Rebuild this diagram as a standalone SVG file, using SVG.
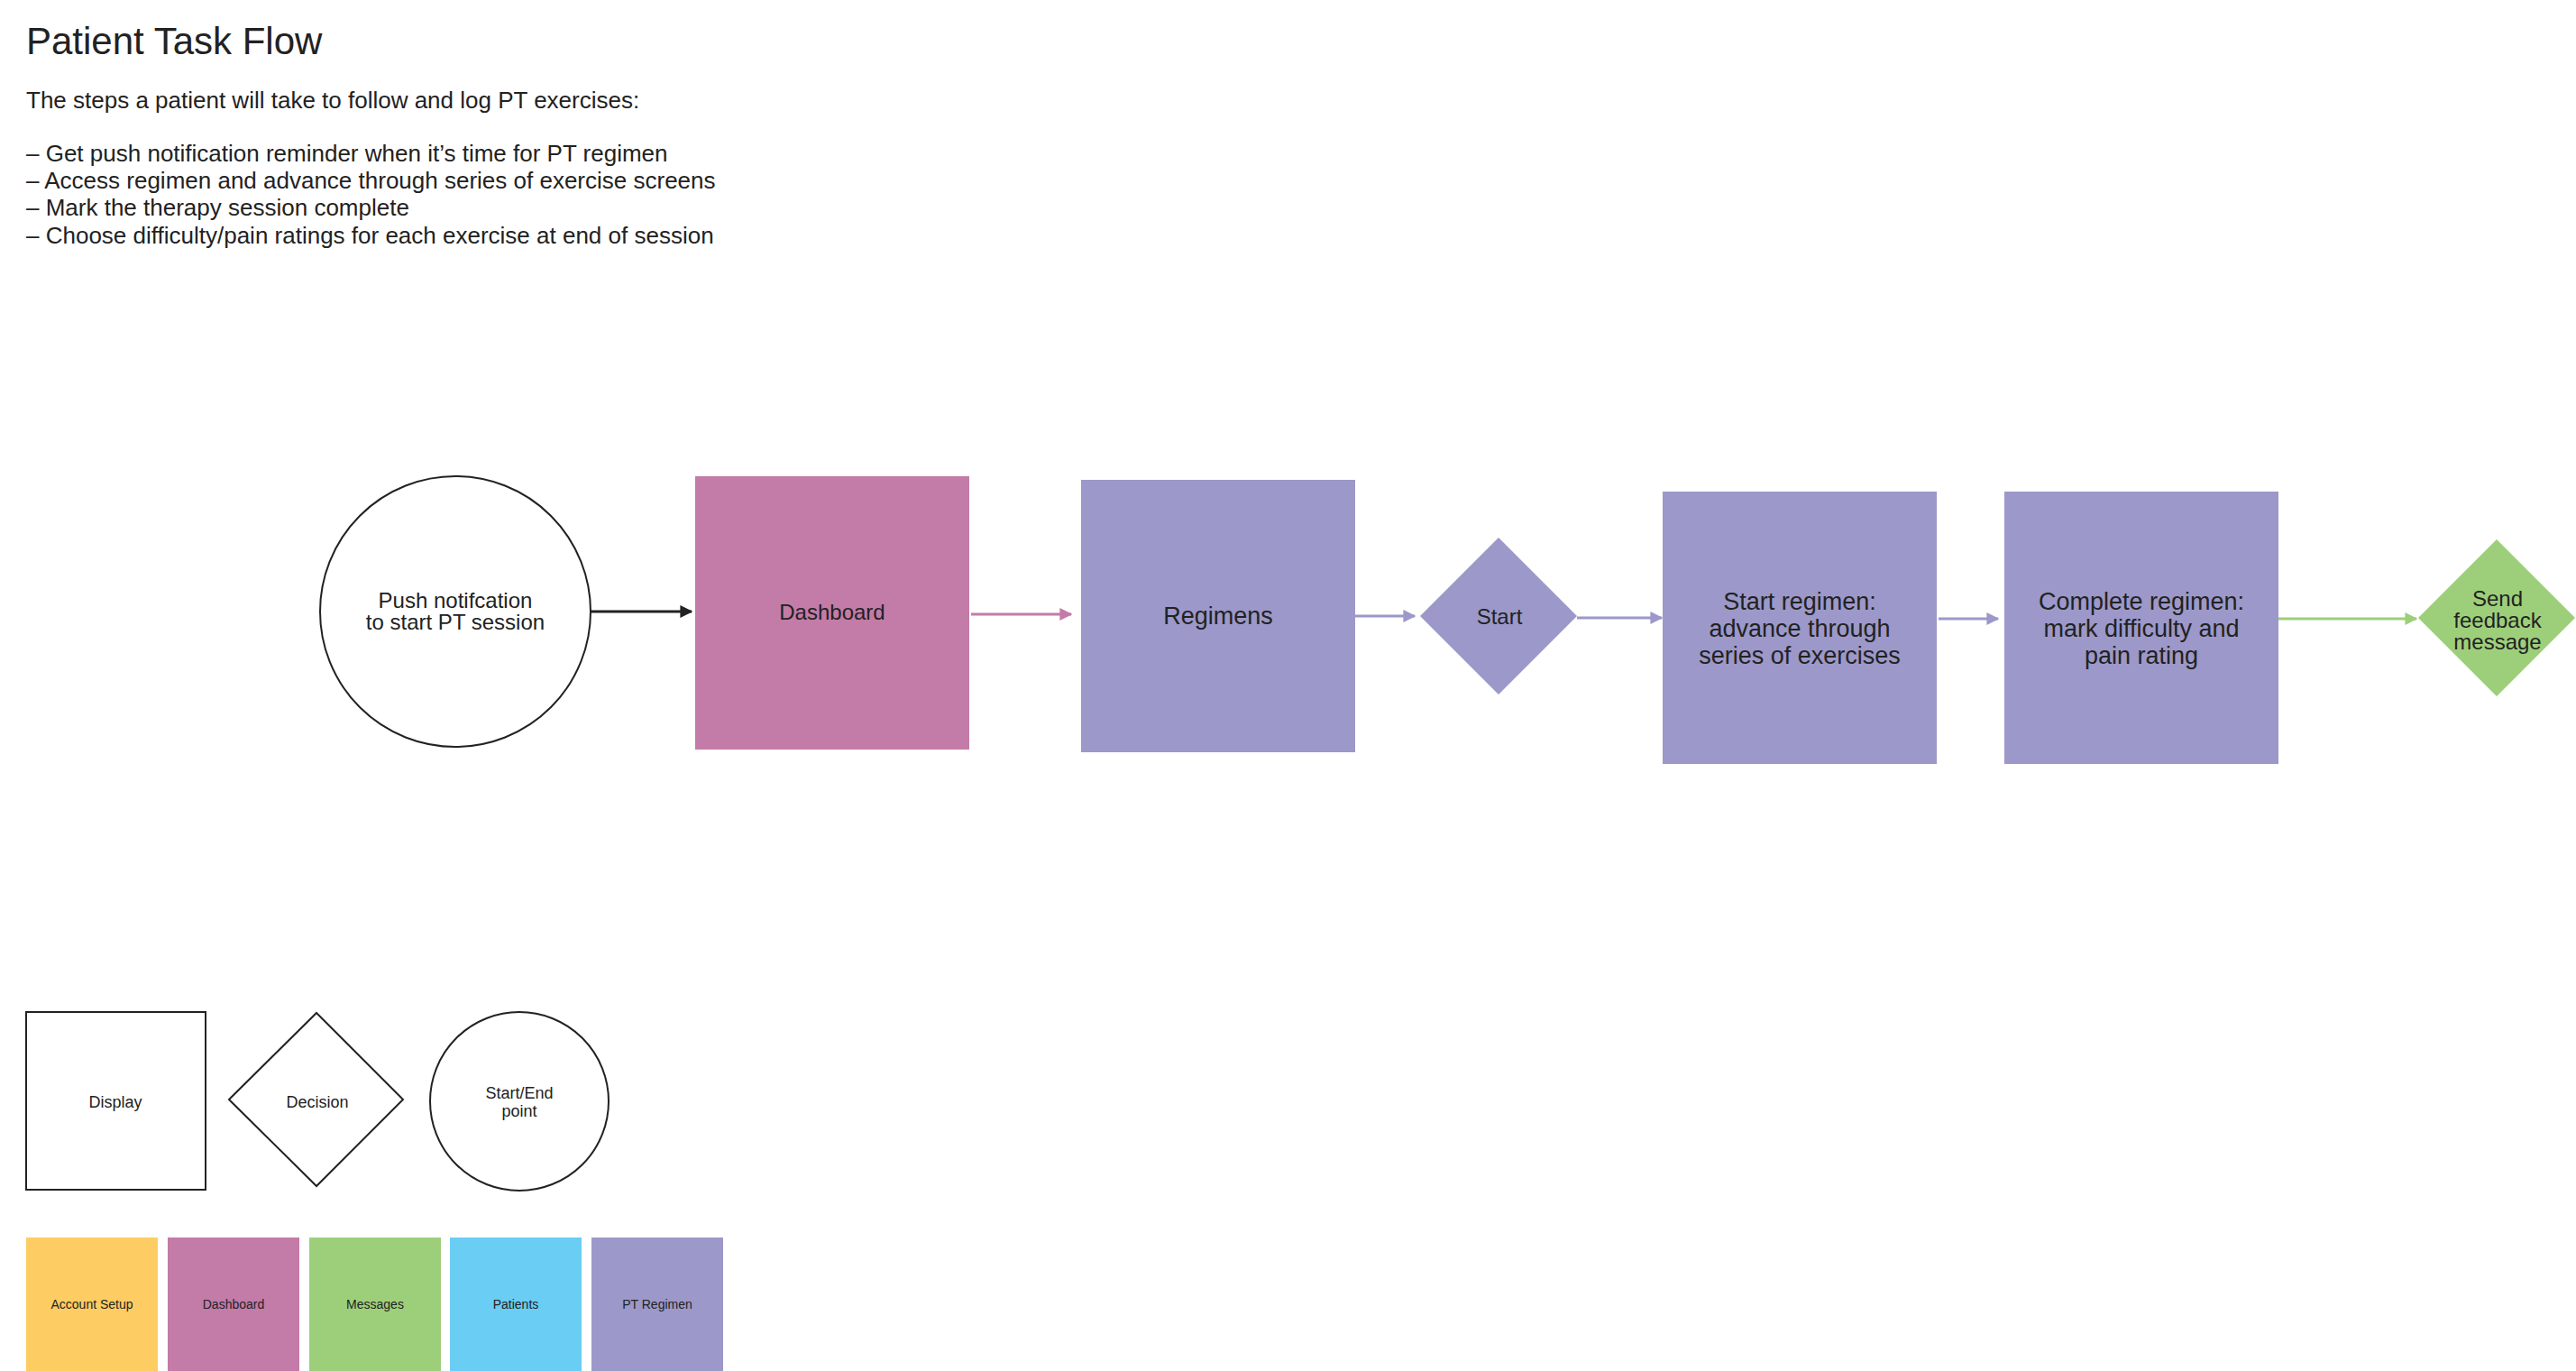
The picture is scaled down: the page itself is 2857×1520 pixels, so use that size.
<svg xmlns="http://www.w3.org/2000/svg" width="2857" height="1520" viewBox="0 0 2857 1520">
<style>
text{font-family:"Liberation Sans",Arial,sans-serif;fill:#222}
.t{font-size:24px;text-anchor:middle}
.b{font-size:27px;text-anchor:middle}
.s{font-size:18px;text-anchor:middle}
.xs{font-size:14px;text-anchor:middle}
.h{font-size:26px}
.pu{fill:#9C98C9}.pk{fill:#C37BA8}.gr{fill:#9DCF7B}.ye{fill:#FDCD63}.bl{fill:#69CDF4}
.ol{fill:#fff;stroke:#222;stroke-width:2}
</style>
<defs>
<marker id="ak" viewBox="0 0 10 10" refX="9" refY="5" markerWidth="14" markerHeight="14" markerUnits="userSpaceOnUse" orient="auto"><path d="M0,0L10,5L0,10z" fill="#222"/></marker>
<marker id="ap" viewBox="0 0 10 10" refX="9" refY="5" markerWidth="14" markerHeight="14" markerUnits="userSpaceOnUse" orient="auto"><path d="M0,0L10,5L0,10z" fill="#C37BA8"/></marker>
<marker id="au" viewBox="0 0 10 10" refX="9" refY="5" markerWidth="14" markerHeight="14" markerUnits="userSpaceOnUse" orient="auto"><path d="M0,0L10,5L0,10z" fill="#9C98C9"/></marker>
<marker id="ag" viewBox="0 0 10 10" refX="9" refY="5" markerWidth="14" markerHeight="14" markerUnits="userSpaceOnUse" orient="auto"><path d="M0,0L10,5L0,10z" fill="#9DCF7B"/></marker>
</defs>
<g id="header">
<text x="29" y="60" style="font-size:42px">Patient Task Flow</text>
<text class="h" x="29" y="120">The steps a patient will take to follow and log PT exercises:</text>
<text class="h" x="29" y="179">– Get push notification reminder when it’s time for PT regimen</text>
<text class="h" x="29" y="209">– Access regimen and advance through series of exercise screens</text>
<text class="h" x="29" y="239">– Mark the therapy session complete</text>
<text class="h" x="29" y="270">– Choose difficulty/pain ratings for each exercise at end of session</text>
</g>
<g id="connectors" fill="none" stroke-width="3">
<line x1="654" y1="678" x2="767" y2="678" stroke="#222" marker-end="url(#ak)"/>
<line x1="1077" y1="681" x2="1188" y2="681" stroke="#C37BA8" marker-end="url(#ap)"/>
<line x1="1503" y1="683" x2="1569" y2="683" stroke="#9C98C9" marker-end="url(#au)"/>
<line x1="1749" y1="685" x2="1843" y2="685" stroke="#9C98C9" marker-end="url(#au)"/>
<line x1="2150" y1="686" x2="2216" y2="686" stroke="#9C98C9" marker-end="url(#au)"/>
<line x1="2527" y1="686" x2="2680" y2="686" stroke="#9DCF7B" marker-end="url(#ag)"/>
</g>
<g id="push"><ellipse class="ol" cx="505" cy="678" rx="150" ry="150"/><text class="t" x="505" y="674">Push notifcation</text><text class="t" x="505" y="698">to start PT session</text></g>
<g id="dashboard"><rect class="pk" x="771" y="528" width="304" height="303"/><text class="t" x="923" y="687">Dashboard</text></g>
<g id="regimens"><rect class="pu" x="1199" y="532" width="304" height="302"/><text class="b" x="1351" y="692">Regimens</text></g>
<g id="start"><polygon class="pu" points="1662,596 1749,683 1662,770 1575,683"/><text class="t" x="1663" y="692">Start</text></g>
<g id="startRegimen"><rect class="pu" x="1844" y="545" width="304" height="302"/><text class="b" x="1996" y="676">Start regimen:</text><text class="b" x="1996" y="706">advance through</text><text class="b" x="1996" y="736">series of exercises</text></g>
<g id="completeRegimen"><rect class="pu" x="2223" y="545" width="304" height="302"/><text class="b" x="2375" y="676">Complete regimen:</text><text class="b" x="2375" y="706">mark difficulty and</text><text class="b" x="2375" y="736">pain rating</text></g>
<g id="feedback"><polygon class="gr" points="2769,598 2856,685 2769,772 2682,685"/><text class="t" x="2770" y="672">Send</text><text class="t" x="2770" y="696">feedback</text><text class="t" x="2770" y="720">message</text></g>
<g id="legend-display"><rect class="ol" x="29" y="1122" width="199" height="197"/><text class="s" x="128" y="1228">Display</text></g>
<g id="legend-decision"><polygon class="ol" points="351,1123 447,1219 351,1315 254,1219"/><text class="s" x="352" y="1228">Decision</text></g>
<g id="legend-startend"><ellipse class="ol" cx="576" cy="1221" rx="99" ry="99"/><text class="s" x="576" y="1218">Start/End</text><text class="s" x="576" y="1238">point</text></g>
<g id="legend-colors">
<rect class="ye" x="29" y="1372" width="146" height="148"/><text class="xs" x="102" y="1451">Account Setup</text>
<rect class="pk" x="186" y="1372" width="146" height="148"/><text class="xs" x="259" y="1451">Dashboard</text>
<rect class="gr" x="343" y="1372" width="146" height="148"/><text class="xs" x="416" y="1451">Messages</text>
<rect class="bl" x="499" y="1372" width="146" height="148"/><text class="xs" x="572" y="1451">Patients</text>
<rect class="pu" x="656" y="1372" width="146" height="148"/><text class="xs" x="729" y="1451">PT Regimen</text>
</g>
</svg>
